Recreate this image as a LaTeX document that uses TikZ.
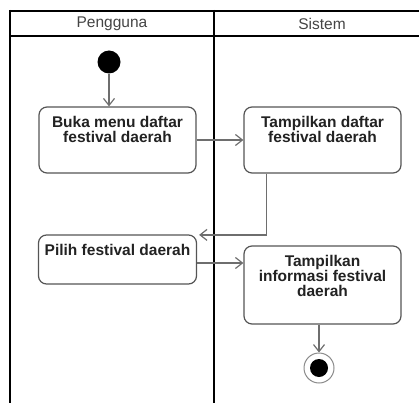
\documentclass[tikz,border=0pt]{standalone}
\usepackage{fontspec}
\setmainfont{Liberation Sans}
\usetikzlibrary{arrows.meta,calc}
\definecolor{boxline}{HTML}{555555}
\definecolor{conn}{HTML}{6E6E6E}
\definecolor{txt}{HTML}{222222}
\definecolor{hdr}{HTML}{444444}
\begin{document}
\begin{tikzpicture}[x=1pt,y=-1pt,
  lane/.style={line width=2pt,black},
  hdrtext/.style={font=\fontsize{15.5}{15}\selectfont,text=hdr,inner sep=0pt},
  act/.style={draw=boxline,line width=1.2pt,rounded corners=8pt,fill=white,inner sep=0pt},
  acttext/.style={font=\bfseries\fontsize{15.5}{15}\selectfont,text=txt,align=center,inner sep=0pt,anchor=north},
  flow/.style={draw=conn,line width=1.2pt,-{Straight Barb[length=7pt,width=11pt,line width=1.2pt]}},
  startst/.style={circle,fill=black,minimum size=23pt,inner sep=0pt},
  endst/.style={circle,draw=conn!80,line width=1pt,fill=white,minimum size=30pt,inner sep=0pt}
]
\useasboundingbox (0,0) rectangle (419,403);
% swimlanes
\draw[lane] (10,11) -- (419,11);
\draw[lane] (10,36) -- (419,36);
\draw[lane] (10,10) -- (10,403);
\draw[lane] (214,10) -- (214,403);
\node[hdrtext] (h1) at (112,24) {Pengguna};
\node[hdrtext] (h2) at (322,24) {Sistem};
% nodes
\node[startst] (s) at (109,62) {};
\node[act,minimum width=157pt,minimum height=66pt] (b1) at (117.5,140) {};
\node[acttext] (t1) at ($(b1.north)+(0,10)$) {Buka menu daftar\\festival daerah};
\node[act,minimum width=157pt,minimum height=66pt] (b2) at (322.5,140) {};
\node[acttext] (t2) at ($(b2.north)+(0,10)$) {Tampilkan daftar\\festival daerah};
\node[act,minimum width=158pt,minimum height=49pt] (b3) at (117.5,259.5) {};
\node[acttext] (t3) at ($(b3.north)+(0,10)$) {Pilih festival daerah};
\node[act,minimum width=157pt,minimum height=78pt] (b4) at (322.5,285) {};
\node[acttext] (t4) at ($(b4.north)+(0,10)$) {Tampilkan\\informasi festival\\daerah};
\node[endst] (e) at (319,368) {};
\node[circle,fill=black,minimum size=18pt,inner sep=0pt] (ei) at (e) {};
\coordinate (c3) at ($(b3.north east)+(2,0.5)$);
% flows
\draw[flow] (s) -- (b1.north -| s);
\draw[flow] (b1.east) -- (b2.west);
\draw[flow] ($(b2.south west)+(23,0)$) |- (c3);
\draw[flow] ([yshift=-3.5pt]b3.east) -- ([yshift=-3.5pt]b3.east -| b4.west);
\draw[flow] (b4.south -| e) -- (e.north);
\end{tikzpicture}
\end{document}
